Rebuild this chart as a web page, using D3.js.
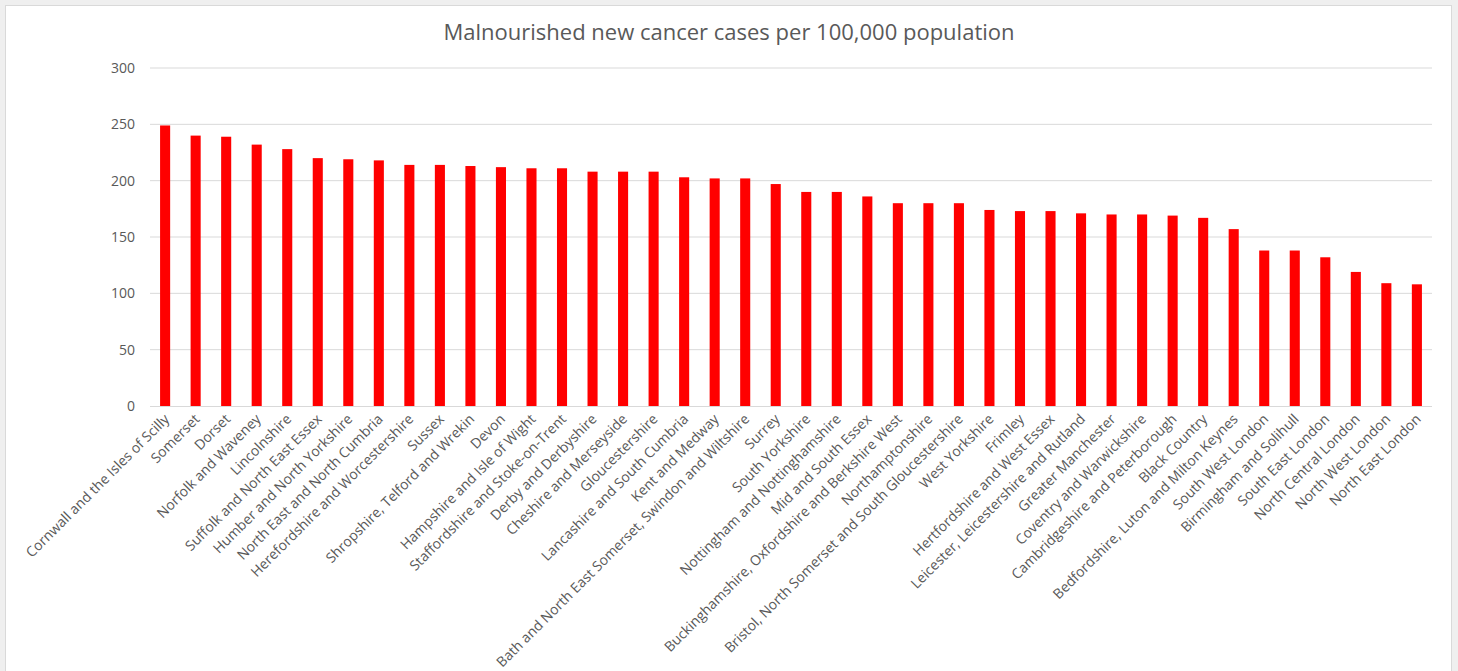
<!DOCTYPE html>
<html>
<head>
<meta charset="utf-8">
<script src="https://cdn.jsdelivr.net/npm/d3@7"></script>
<style>
  body { margin: 0; background: #efefef; }
  text { font-family: "Open Sans", sans-serif; fill: #595959; }
</style>
</head>
<body>
<div id="chart"></div>
<script>
// Regions (ICB areas), sorted as in the source chart
const regions = [
    "Cornwall and the Isles of Scilly", "Somerset", "Dorset", "Norfolk and Waveney",
    "Lincolnshire", "Suffolk and North East Essex", "Humber and North Yorkshire",
    "North East and North Cumbria", "Herefordshire and Worcestershire", "Sussex",
    "Shropshire, Telford and Wrekin", "Devon", "Hampshire and Isle of Wight",
    "Staffordshire and Stoke-on-Trent", "Derby and Derbyshire", "Cheshire and Merseyside",
    "Gloucestershire", "Lancashire and South Cumbria", "Kent and Medway",
    "Bath and North East Somerset, Swindon and Wiltshire", "Surrey", "South Yorkshire",
    "Nottingham and Nottinghamshire", "Mid and South Essex",
    "Buckinghamshire, Oxfordshire and Berkshire West", "Northamptonshire",
    "Bristol, North Somerset and South Gloucestershire", "West Yorkshire", "Frimley",
    "Hertfordshire and West Essex", "Leicester, Leicestershire and Rutland",
    "Greater Manchester", "Coventry and Warwickshire", "Cambridgeshire and Peterborough",
    "Black Country", "Bedfordshire, Luton and Milton Keynes", "South West London",
    "Birmingham and Solihull", "South East London", "North Central London",
    "North West London", "North East London"
];

// Malnourished new cancer cases per 100,000
const rates = [
    249, 240, 239, 232, 228, 220, 219, 218, 214, 214,
    213, 212, 211, 211, 208, 208, 208, 203, 202, 202,
    197, 190, 190, 186, 180, 180, 180, 174, 173, 173,
    171, 170, 170, 169, 167, 157, 138, 138, 132, 119,
    109, 108
];

const yTicks = [0, 50, 100, 150, 200, 250, 300];

const width = 1458, height = 671;
const margin = {top: 68, right: 26, bottom: 265, left: 150};

let svg = d3.select("#chart")
    .append("svg")
    .attr("width", width)
    .attr("height", height);

// chart frame
svg.append("rect")
    .attr("x", 5.5).attr("y", 5.5)
    .attr("width", 1446).attr("height", 680)
    .attr("fill", "#ffffff")
    .attr("stroke", "#d9d9d9");

let x = d3.scaleBand()
    .domain(regions)
    .range([margin.left, width - margin.right])
    .paddingInner(0.67)
    .paddingOuter(0.33);

let y = d3.scaleLinear()
    .domain([0, 300])
    .range([height - margin.bottom, margin.top]);

// gridlines
svg.append("g")
    .selectAll("line")
    .data(yTicks.slice(1))
    .enter()
    .append("line")
    .attr("x1", margin.left)
    .attr("x2", width - margin.right)
    .attr("y1", d => y(d))
    .attr("y2", d => y(d))
    .style("stroke", "#d9d9d9")
    .style("stroke-width", 1);

// y axis labels
let yAxis = svg.append("g")
    .attr("transform", `translate(${margin.left - 15}, 0)`)
    .call(d3.axisLeft(y).tickValues(yTicks).tickSize(0).tickPadding(0));
yAxis.select(".domain").remove();
yAxis.selectAll("text")
    .style("font-size", "14px")
    .style("fill", "#595959");

// bars
svg.append("g")
    .selectAll("rect")
    .data(rates)
    .enter()
    .append("rect")
    .attr("x", (d, i) => x(regions[i]))
    .attr("width", x.bandwidth())
    .attr("y", d => y(d))
    .attr("height", d => y(0) - y(d))
    .style("fill", "#ff0000");

// x axis
let xAxis = svg.append("g")
    .attr("transform", `translate(0, ${y(0)})`)
    .call(d3.axisBottom(x).tickSize(0).tickPadding(0));
xAxis.select(".domain")
    .attr("d", `M${margin.left},0.5H${width - margin.right}`)
    .style("stroke", "#d9d9d9");
xAxis.selectAll("text")
    .style("font-size", "14px")
    .style("fill", "#595959")
    .style("text-anchor", "end")
    .attr("y", 0)
    .attr("dy", 0)
    .attr("transform", "translate(5, 14) rotate(-45)");

// title
svg.append("text")
    .attr("x", 729)
    .attr("y", 40)
    .attr("text-anchor", "middle")
    .style("font-size", "22px")
    .text("Malnourished new cancer cases per 100,000 population");
</script>
</body>
</html>
